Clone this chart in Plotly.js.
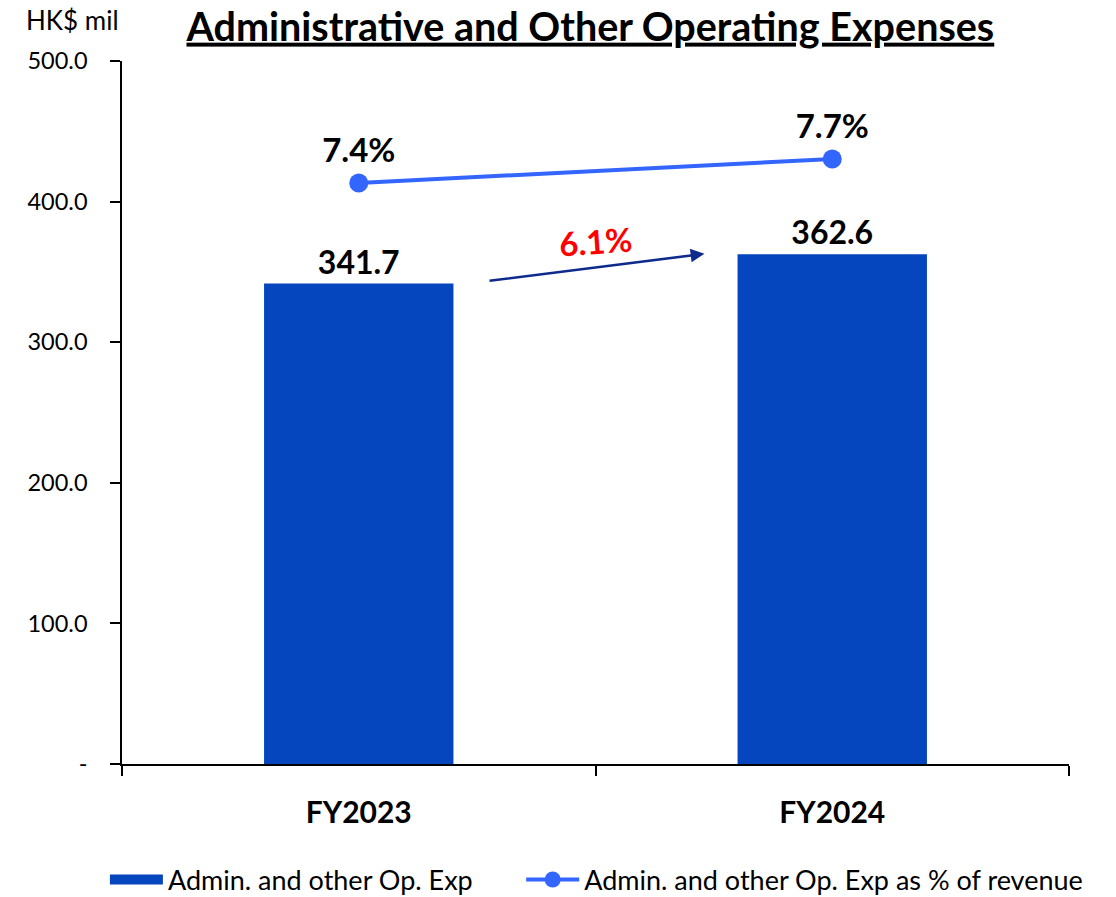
<!DOCTYPE html>
<html>
<head>
<meta charset="utf-8">
<script src="https://cdn.plot.ly/plotly-3.0.1.min.js"></script>
<style>html,body{margin:0;padding:0;background:#fff;}#chart{width:1116px;height:897px;}</style>
</head>
<body>
<div id="chart"></div>
<script>
// ---- data ----
const categories = ["FY2023", "FY2024"];
const expenseValues = [341.7, 362.6];
const expenseLabels = ["341.7", "362.6"];
const pctValues = [7.4, 7.7];
const pctLabels = ["7.4%", "7.7%"];
const growthLabel = "6.1%";
const yTickVals = [0, 100, 200, 300, 400, 500];
const yTickText = ["-", "100.0", "200.0", "300.0", "400.0", "500.0"];
const seriesNames = ["Admin. and other Op. Exp", "Admin. and other Op. Exp as % of revenue"];

const FONT = "Lato, 'Open Sans', sans-serif";
const BAR_COLOR = "#0546BE";
const LINE_COLOR = "#3366FF";

const traces = [
  {
    type: "bar",
    name: seriesNames[0],
    x: categories,
    y: expenseValues,
    text: expenseLabels,
    textposition: "outside",
    cliponaxis: false,
    textfont: {family: FONT, size: 32, color: "#000", weight: "bold"},
    marker: {color: BAR_COLOR},
    width: 0.4,
    showlegend: false,
    hoverinfo: "x+y"
  },
  {
    // legend entry for the bar series (wide rectangle swatch, as in the reference)
    type: "scatter",
    mode: "lines",
    name: seriesNames[0],
    x: [null], y: [null],
    line: {color: BAR_COLOR, width: 15},
    legend: "legend",
    hoverinfo: "skip"
  },
  {
    type: "scatter",
    mode: "lines+markers+text",
    name: seriesNames[1],
    x: categories,
    y: pctValues,
    yaxis: "y2",
    text: pctLabels,
    textposition: "top center",
    cliponaxis: false,
    textfont: {family: FONT, size: 33, color: "#000", weight: "bold"},
    line: {color: LINE_COLOR, width: 4},
    marker: {color: LINE_COLOR, size: 19},
    legend: "legend2"
  }
];

const legendBase = {
  orientation: "h",
  xref: "container", xanchor: "left",
  y: 0.019, yref: "container", yanchor: "middle",
  font: {family: FONT, size: 27, color: "#000"},
  itemwidth: 53,
  bgcolor: "rgba(0,0,0,0)"
};

const layout = {
  width: 1116,
  height: 897,
  paper_bgcolor: "#fff",
  plot_bgcolor: "#fff",
  margin: {l: 122, r: 47, t: 61, b: 133},
  font: {family: FONT, color: "#000"},
  showlegend: true,
  title: {
    text: "<u>Administrative and Other Operating Expenses</u>",
    font: {family: FONT, size: 39.5, color: "#000", weight: "bold"},
    x: 0.529, xref: "container", xanchor: "center",
    y: 0.9855, yref: "container", yanchor: "top",
    pad: {t: 0}
  },
  xaxis: {
    type: "category",
    showline: true, linecolor: "#000", linewidth: 1.5,
    ticks: "outside", tickson: "boundaries", ticklen: 10, tickcolor: "#000", tickwidth: 1.5,
    tickfont: {family: FONT, size: 30, color: "#000", weight: "bold"},
    ticklabelstandoff: 21,
    showgrid: false, zeroline: false
  },
  yaxis: {
    range: [0, 500],
    tickvals: yTickVals, ticktext: yTickText,
    showline: true, linecolor: "#000", linewidth: 1.5,
    ticks: "outside", ticklen: 10, tickcolor: "#000", tickwidth: 1.5,
    tickfont: {family: FONT, size: 23.5, color: "#000"},
    ticklabelstandoff: 18,
    showgrid: false, zeroline: false
  },
  yaxis2: {
    overlaying: "y", side: "right",
    range: [0.1375, 8.925],
    visible: false, showgrid: false, zeroline: false
  },
  legend: Object.assign({}, legendBase, {x: 0.094}),
  legend2: Object.assign({}, legendBase, {x: 0.467}),
  annotations: [
    {
      text: "HK$ mil", xref: "paper", yref: "paper",
      x: -0.103, y: 1.058, xanchor: "left", yanchor: "middle",
      showarrow: false, font: {family: FONT, size: 26, color: "#000"}
    },
    {
      text: "", xref: "x", yref: "y", axref: "x", ayref: "y",
      x: 0.73, y: 362.9, ax: 0.273, ay: 343.5,
      showarrow: true, arrowhead: 2, arrowsize: 1.1, arrowwidth: 2.5, arrowcolor: "#0D2A8C"
    },
    {
      text: "<b>" + growthLabel + "</b>", xref: "x", yref: "y",
      x: 0.5, y: 372, xanchor: "center", yanchor: "middle",
      showarrow: false, textangle: -4,
      font: {family: FONT, size: 33, color: "#FF0000"}
    }
  ]
};

Plotly.newPlot("chart", traces, layout, {displayModeBar: false, responsive: false});
</script>
</body>
</html>
